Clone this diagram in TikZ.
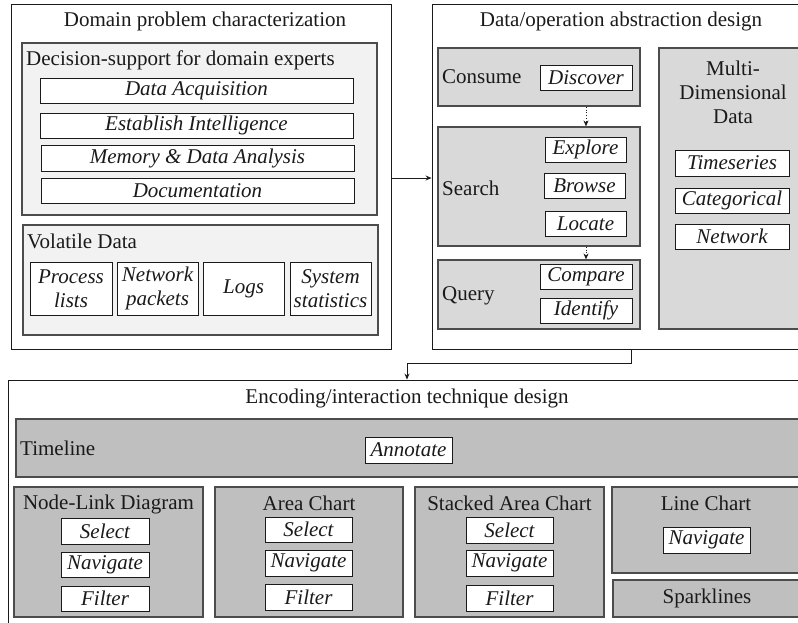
\documentclass[tikz,border=0pt]{standalone}
\usepackage{fontspec}
\setmainfont{Liberation Serif}
\usetikzlibrary{arrows.meta}
\newcommand\rbox[7]{\node[#2, minimum width={(#5)-(#3)}, minimum height={(#6)-(#4)}] (#1) at ({((#3)+(#5))/2},{((#4)+(#6))/2}) {#7};}
\definecolor{lgray}{HTML}{F2F2F2}
\definecolor{mgray}{HTML}{D9D9D9}
\definecolor{dgray}{HTML}{BFBFBF}
\definecolor{ink}{HTML}{1A1A1A}
\tikzset{
  every node/.style={font=\fontsize{21}{24}\selectfont, text=ink, inner sep=0pt},
  outer/.style={draw=ink, line width=0.9pt, fill=white},
  lgrp/.style={draw=black!70, line width=1.2pt, fill=lgray},
  mgrp/.style={draw=black!70, line width=1.2pt, fill=mgray},
  dgrp/.style={draw=black!70, line width=1.2pt, fill=dgray},
  item/.style={draw=ink, line width=0.9pt, fill=white, font=\fontsize{21}{24}\selectfont\itshape, align=center},
  conn/.style={draw=ink, line width=0.9pt, -{Stealth[length=6pt,width=5pt]}},
  dconn/.style={conn, dotted},
}
\begin{document}
\begin{tikzpicture}[x=1pt, y=-1pt]
\useasboundingbox (0,0) rectangle (798,622);
\clip (0,0) rectangle (798,622);
% Domain problem characterization
\rbox{dom}{outer}{11}{4}{391}{349}{}
\node (domt) at (205,21) {Domain problem characterization};
\rbox{ds}{lgrp}{22}{43}{377}{215}{}
\node[anchor=west] (dst) at (26,60) {Decision-support for domain experts};
\rbox{da}{item}{40}{78}{353}{103}{Data Acquisition}
\rbox{ei}{item}{40}{113}{353}{138}{Establish Intelligence}
\rbox{md}{item}{41}{145}{354}{171}{Memory \& Data Analysis}
\rbox{doc}{item}{41}{178}{354}{203}{Documentation}
\rbox{vd}{lgrp}{23}{225}{378}{335}{}
\node[anchor=west] (vdt) at (27,241) {Volatile Data};
\rbox{pl}{item}{30}{262}{112}{315}{Process\\lists}
\rbox{np}{item}{117}{262}{198}{315}{Network\\packets}
\rbox{lg}{item}{203}{262}{284}{315}{Logs}
\rbox{ss}{item}{290}{262}{371}{315}{System\\statistics}
% Data/operation abstraction design
\rbox{abs}{outer}{432}{4}{810}{349}{}
\node (abst) at (621,21) {Data/operation abstraction design};
\rbox{con}{mgrp}{438}{48}{640}{106}{}
\node[anchor=west] (cont) at (442,77) {Consume};
\rbox{dis}{item}{540}{65}{632}{90}{Discover}
\rbox{sea}{mgrp}{438}{127}{640}{246}{}
\node[anchor=west] (seat) at (442,188) {Search};
\rbox{exp}{item}{545}{137}{626}{162}{Explore}
\rbox{bro}{item}{544}{173}{625}{198}{Browse}
\rbox{loc}{item}{545}{211}{626}{236}{Locate}
\rbox{que}{mgrp}{438}{260}{640}{329}{}
\node[anchor=west] (quet) at (442,296) {Query};
\rbox{cmp}{item}{540}{264}{632}{289}{Compare}
\rbox{idf}{item}{540}{298}{632}{323}{Identify}
\rbox{mdd}{mgrp}{659}{48}{808}{329}{}
\node[align=center] (mddt) at (733,92) {Multi-\\Dimensional\\Data};
\rbox{ts}{item}{675}{150}{789}{176}{Timeseries}
\rbox{cat}{item}{675}{188}{789}{213}{Categorical}
\rbox{net}{item}{675}{224}{789}{249}{Network}
% Encoding/interaction technique design
\rbox{enc}{outer}{8}{380}{806}{640}{}
\node (enct) at (407,398) {Encoding/interaction technique design};
\rbox{tl}{dgrp}{16}{419}{800}{477}{}
\node[anchor=west] (tlt) at (20,448) {Timeline};
\rbox{ann}{item}{365}{437}{452}{463}{Annotate}
\rbox{nld}{dgrp}{14}{487}{203}{617}{}
\node (nldt) at (108.5,504) {Node-Link Diagram};
\rbox{nlds}{item}{61}{518}{149}{544}{Select}
\rbox{nldn}{item}{61}{552}{149}{577}{Navigate}
\rbox{nldf}{item}{61}{586}{149}{611}{Filter}
\rbox{ac}{dgrp}{215}{487}{403}{617}{}
\node (act) at (309,503) {Area Chart};
\rbox{acs}{item}{265}{517}{352}{542}{Select}
\rbox{acn}{item}{265}{550}{352}{576}{Navigate}
\rbox{acf}{item}{265}{584}{352}{610}{Filter}
\rbox{sac}{dgrp}{415}{487}{604}{617}{}
\node (sact) at (509.5,503) {Stacked Area Chart};
\rbox{sacs}{item}{466}{517}{553}{543}{Select}
\rbox{sacn}{item}{466}{550}{553}{576}{Navigate}
\rbox{sacf}{item}{466}{585}{553}{611}{Filter}
\rbox{lc}{dgrp}{612}{487}{800}{573}{}
\node (lct) at (706,503) {Line Chart};
\rbox{lcn}{item}{663}{527}{750}{553}{Navigate}
\rbox{spk}{dgrp}{613}{580}{800}{617}{}
\node (spkt) at (707,598) {Sparklines};
% connectors
\draw[conn] (dom.east |- 0,178) -- (abs.west |- 0,178);
\draw[dconn] (con.south -| dis) -- (sea.north -| dis);
\draw[dconn] (sea.south -| dis) -- (que.north -| dis);
\coordinate (elb) at (631,363);
\draw[conn] (abs.south -| elb) -- (elb) -| (enc.north);
\end{tikzpicture}
\end{document}
